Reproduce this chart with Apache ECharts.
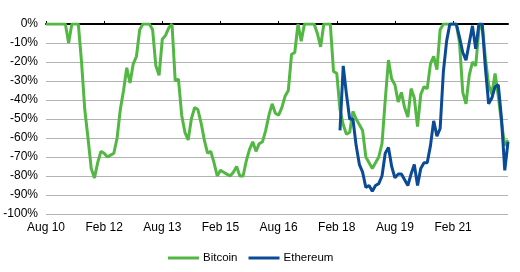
<!DOCTYPE html>
<html>
<head>
<meta charset="utf-8">
<script src="https://cdn.jsdelivr.net/npm/echarts@6/dist/echarts.min.js"></script>
<style>
html,body{margin:0;padding:0;background:#fff;}
#chart{width:520px;height:272px;}
</style>
</head>
<body>
<div id="chart"></div>
<script>
// Monthly observations, Aug 2010 .. Jul 2022
const startYear = 2010, startMonth = 7; // 0-based: August
const monthNames = ["Jan","Feb","Mar","Apr","May","Jun","Jul","Aug","Sep","Oct","Nov","Dec"];
const categories = [];
for (let i = 0; i < 144; i++) {
  const mm = (startMonth + i) % 12;
  const yy = startYear + Math.floor((startMonth + i) / 12);
  categories.push(monthNames[mm] + " " + String(yy).slice(2));
}
const tickLabels = ["Aug 10","Feb 12","Aug 13","Feb 15","Aug 16","Feb 18","Aug 19","Feb 21"];
const yTickLabels = ["0%","-10%","-20%","-30%","-40%","-50%","-60%","-70%","-80%","-90%","-100%"];

const bitcoin = [
  0,0,0,0,0,0,0,-10,0,0,
  0,-20,-45,-60,-76,-81,-73,-67,-68,-70,
  -69,-68,-60,-45,-35,-23,-31,-21,-17,-3,
  0,0,0,-3,-22,-27,-8,-6,-2,0,
  -30,-29,-48,-57,-61,-50,-44,-45,-52,-61,
  -68,-67,-73,-80,-77,-78,-79,-80,-78,-75,
  -80,-80,-72,-66,-62,-67,-63,-62,-56,-48,
  -42,-47,-48,-44,-38,-35,-16,-15,0,-9,
  0,0,0,0,-5,-12,0,0,0,-25,
  -26,-45,-53,-58,-57,-46,-50,-53,-56,-70,
  -73,-76,-73,-70,-63,-40,-19,-29,-32,-41,
  -36,-44,-49,-34,-39,-54,-37,-33,-34,-21,
  -17,-24,-3,0,0,0,0,0,-10,-36,
  -42,-27,-20,-22,-3,0,-18,-32,-37,-26,
  -38,-52,-64,-61
];
const ethereum = [
  null,null,null,null,null,null,null,null,null,null,
  null,null,null,null,null,null,null,null,null,null,
  null,null,null,null,null,null,null,null,null,null,
  null,null,null,null,null,null,null,null,null,null,
  null,null,null,null,null,null,null,null,null,null,
  null,null,null,null,null,null,null,null,null,null,
  null,null,null,null,null,null,null,null,null,null,
  null,null,null,null,null,null,null,null,null,null,
  null,null,null,null,null,null,null,null,null,null,
  null,-56,-22,-37,-50,-50,-64,-74,-78,-86,
  -85,-88,-85,-84,-80,-68,-65,-75,-81,-79,
  -79,-82,-85,-79,-74,-85,-76,-73,-73,-64,
  -51,-59,-55,-25,-9,0,0,0,-7,-15,
  -19,-10,-1,-13,0,0,-23,-42,-39,-33,
  -32,-50,-77,-62
];

const FONT = "Liberation Sans, Arial, sans-serif";
const chart = echarts.init(document.getElementById('chart'), null, {renderer:'canvas'});
chart.setOption({
  animation: false,
  backgroundColor: '#ffffff',
  grid: {left: 46, right: 12, top: 24, bottom: 58, containLabel: false},
  legend: {
    left: 163, top: 247,
    icon: 'rect', itemWidth: 31, itemHeight: 3, itemGap: 11,
    textStyle: {fontFamily: FONT, fontSize: 11.5, color: '#000', padding: [0,0,0,-1]},
    data: ['Bitcoin', 'Ethereum']
  },
  xAxis: [
    {
      type: 'category', position: 'top', data: categories, boundaryGap: false,
      axisLine: {onZero: false, lineStyle: {color: '#000', width: 2}},
      axisTick: {show: true, interval: 17, length: 3, lineStyle: {color: '#000', width: 1}},
      axisLabel: {show: false},
      splitLine: {show: false}
    },
    {
      type: 'category', position: 'bottom', data: categories, boundaryGap: false,
      axisLine: {show: false, onZero: false},
      axisTick: {show: false},
      axisLabel: {
        show: true, interval: 17, margin: 8,
        fontFamily: FONT, fontSize: 12, color: '#000',
        formatter: function (v, i) { return tickLabels[Math.round(i / 18)] || ''; }
      },
      splitLine: {show: false}
    }
  ],
  yAxis: {
    type: 'value', min: -100, max: 0, interval: 10,
    axisLine: {show: false}, axisTick: {show: false},
    axisLabel: {
      fontFamily: FONT, fontSize: 12, color: '#000', margin: 8,
      formatter: function (v) { return yTickLabels[Math.round(-v / 10)]; }
    },
    splitLine: {lineStyle: {color: '#b3b3b3', width: 1}}
  },
  series: [
    {
      name: 'Bitcoin', type: 'line', data: bitcoin, xAxisIndex: 0,
      showSymbol: false, symbol: 'none',
      lineStyle: {color: '#52b843', width: 3}, itemStyle: {color: '#52b843'},
      z: 2
    },
    {
      name: 'Ethereum', type: 'line', data: ethereum, xAxisIndex: 0,
      showSymbol: false, symbol: 'none', connectNulls: false,
      lineStyle: {color: '#0a4a96', width: 3}, itemStyle: {color: '#0a4a96'},
      z: 3
    }
  ]
});
</script>
</body>
</html>
